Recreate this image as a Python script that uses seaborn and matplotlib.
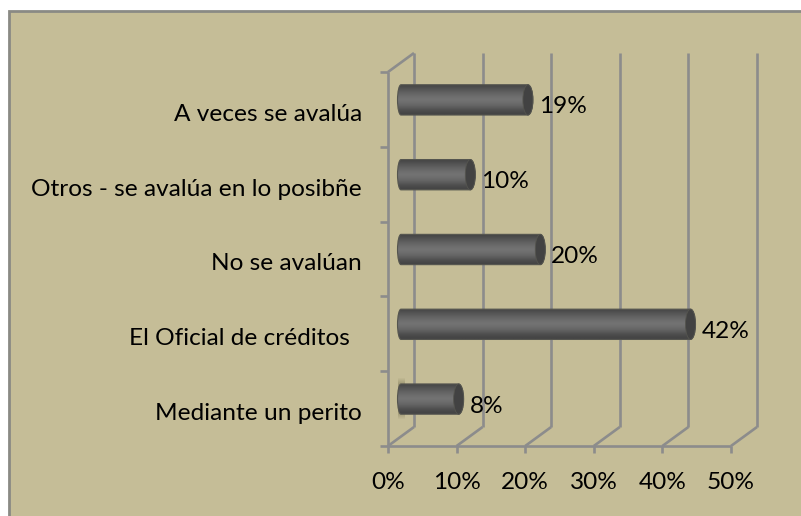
import numpy as np
import pandas as pd
import matplotlib
matplotlib.use("Agg")
import matplotlib.pyplot as plt
import seaborn as sns
from matplotlib.patches import Rectangle, Ellipse, PathPatch
from matplotlib.path import Path
from matplotlib.transforms import ScaledTranslation

categories = ["A veces se avalúa", "Otros - se avalúa en lo posibñe", "No se avalúan",
              "El Oficial de créditos  ", "Mediante un perito"]
values = [18.5, 10.1, 20.3, 42.2, 8.4]
value_labels = ["19%", "10%", "20%", "42%", "8%"]
xticks = [0, 10, 20, 30, 40, 50]

W, H = 801, 516
BG = "#c5bd97"
GRID = "#8c8c8c"
FS = 17.6
sns.set_theme(style="white")
plt.rcParams["font.family"] = ["Lato", "DejaVu Sans"]

fig = plt.figure(figsize=(W/100, H/100), dpi=100, facecolor="white")
fig.add_artist(Rectangle((9/W, -0.02), (W)/W, (H-11)/H + 0.02, transform=fig.transFigure,
                         fc=BG, ec="#8a8a84", lw=2, zorder=-1))
L, R, T, B = 388, 731, 72, 446
ax = fig.add_axes([L/W, 1-B/H, (R-L)/W, (B-T)/H])
ax.patch.set_alpha(0)

df = pd.DataFrame({"cat": categories, "val": values})
sns.barplot(data=df, y="cat", x="val", orient="h", ax=ax, width=0.405, color="#555555", saturation=1)
ax.set_xlim(0, 50)
ax.set_ylim(4.5, -0.5)
ax.set_xlabel(""); ax.set_ylabel("")
for s in ax.spines.values():
    s.set_visible(False)

dx, dy = 26, 19
def off(px, py):
    return ax.transData + ScaledTranslation(px/100, py/100, fig.dpi_scale_trans)
px_x = 50/(R-L)
px_y = 5/(B-T)

lk = dict(color=GRID, lw=1.9, clip_on=False, solid_capstyle="butt", zorder=1)
for v in xticks:
    ax.plot([v, v], [-0.5, 4.5], transform=off(dx, dy), **lk)
    ax.plot([v, v + dx*px_x], [4.5, 4.5 - dy*px_y], **lk)
    ax.plot([v, v], [4.5, 4.5 + 7*px_y], **lk)
ax.plot([0, 50], [4.5, 4.5], **lk)
ax.plot([0, 0], [-0.5, 4.5], **lk)
ax.plot([0, dx*px_x], [-0.5, -0.5 - dy*px_y], **lk)
for i in range(6):
    ax.plot([-8*px_x, 0], [i-0.5, i-0.5], **lk)

grad = np.array([0.28, 0.32, 0.36, 0.40, 0.43, 0.45, 0.43, 0.40, 0.35, 0.30, 0.27])[:, None]
tr = off(13, 9.5)
bars = list(ax.patches)
for p in bars:
    x, y, w, h = p.get_x(), p.get_y(), p.get_width(), p.get_height()
    p.set_visible(False)
    cy = y + h/2
    lw_, rw_ = 3.5*px_x, 5*px_x
    k = 0.5523
    verts = [(x, y),
             (x+w, y), (x+w+k*rw_, y), (x+w+rw_, cy-k*h/2), (x+w+rw_, cy),
             (x+w+rw_, cy+k*h/2), (x+w+k*rw_, y+h), (x+w, y+h),
             (x, y+h),
             (x-k*lw_, y+h), (x-lw_, cy+k*h/2), (x-lw_, cy),
             (x-lw_, cy-k*h/2), (x-k*lw_, y), (x, y), (x, y)]
    codes = [Path.MOVETO, Path.LINETO, Path.CURVE4, Path.CURVE4, Path.CURVE4,
             Path.CURVE4, Path.CURVE4, Path.CURVE4, Path.LINETO,
             Path.CURVE4, Path.CURVE4, Path.CURVE4, Path.CURVE4, Path.CURVE4, Path.CURVE4,
             Path.CLOSEPOLY]
    shape = PathPatch(Path(verts, codes), transform=tr, fc="none", ec="#55554f", lw=0.8, zorder=4, clip_on=False)
    ax.add_patch(shape)
    im = ax.imshow(grad, cmap="gray", vmin=0, vmax=1, aspect="auto", interpolation="bilinear",
                   extent=(x-lw_, x+w+rw_, y+h, y), transform=tr, zorder=3, clip_on=True)
    im.set_clip_path(shape)
    ax.add_patch(Ellipse((x+w, cy), 2*rw_, h, transform=tr, fc="#424242", ec="#55554f", lw=0.6, zorder=5, clip_on=False))

last = bars[-1]
sm = np.array([0.0, 0.6, 0.85, 0.9, 0.85, 0.6, 0.0])[:, None]
cmap = matplotlib.colors.LinearSegmentedColormap.from_list("s", [BG, "#847e5d"])
ax.imshow(sm, cmap=cmap, vmin=0, vmax=1, aspect="auto", interpolation="bilinear", zorder=2,
          extent=(-3*px_x, 4*px_x, last.get_y()+last.get_height()+9*px_y, last.get_y()-9*px_y), transform=tr)
ax.set_xlim(0, 50)
ax.set_ylim(4.5, -0.5)

ax.set_xticks(xticks)
ax.set_xticklabels([f"{v}%" for v in xticks], fontsize=FS, color="black")
ax.set_yticks(range(5))
ax.set_yticklabels(categories, fontsize=FS, color="black")
ax.tick_params(axis="x", length=0, pad=18.5)
ax.tick_params(axis="y", length=0, pad=18.7)
for t in ax.get_yticklabels():
    t.set_transform(t.get_transform() + ScaledTranslation(0, -3/100, fig.dpi_scale_trans))

for p, lab in zip(bars, value_labels):
    ax.text(p.get_x()+p.get_width(), p.get_y()+p.get_height()/2, lab, transform=off(13+11, 2.5),
            fontsize=FS, color="black", va="center", ha="left", zorder=6, clip_on=False)

fig.savefig("out.png", dpi=100, facecolor="white")
